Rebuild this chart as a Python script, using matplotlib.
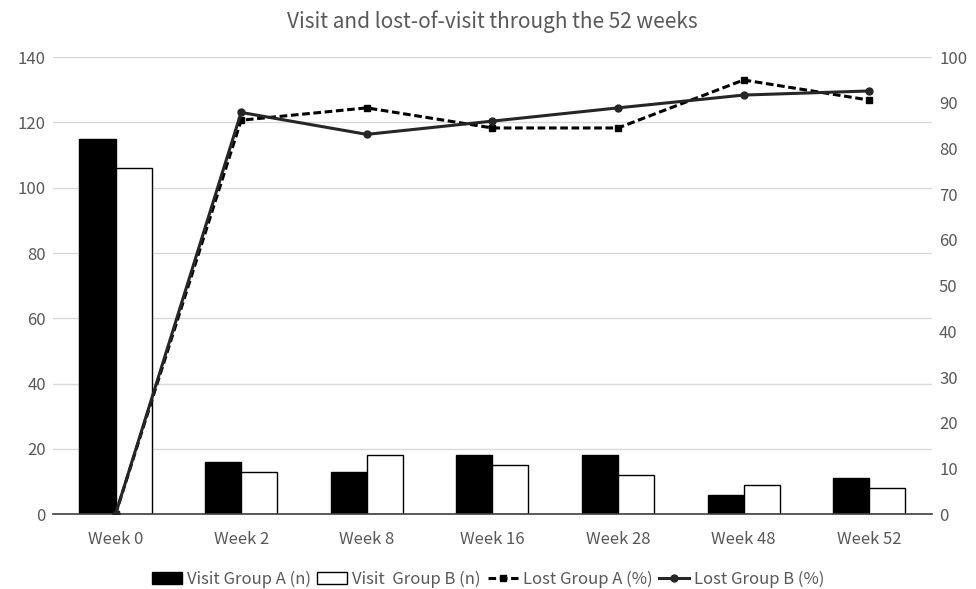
import numpy as np
import matplotlib.pyplot as plt

# data
weeks = ["Week 0", "Week 2", "Week 8", "Week 16", "Week 28", "Week 48", "Week 52"]
visit_a = [115, 16, 13, 18, 18, 6, 11]
visit_b = [106, 13, 18, 15, 12, 9, 8]
lost_a = [0, 86.2, 88.9, 84.5, 84.5, 95.0, 90.6]
lost_b = [0, 87.9, 83.1, 86.0, 88.9, 91.7, 92.6]

plt.rcParams['font.family'] = ['Noto Sans CJK SC', 'DejaVu Sans']
txt = '#595959'

fig = plt.figure(figsize=(9.76, 5.89), dpi=100)
ax = fig.add_axes([0.054, 0.127, 0.901, 0.776])
ax2 = ax.twinx()

x = np.arange(len(weeks))
w = 0.287
ax.bar(x - w / 2, visit_a, w, color='black', edgecolor='black', linewidth=1,
       label='Visit Group A (n)', zorder=2)
ax.bar(x + w / 2, visit_b, w, color='white', edgecolor='black', linewidth=1,
       label='Visit  Group B (n)', zorder=2)

ax2.plot(x, lost_a, color='black', linestyle=(0, (2.5, 1.2)), linewidth=2.2,
         marker='s', markersize=5, label='Lost Group A (%)')
ax2.plot(x, lost_b, color='#262626', linewidth=2.2,
         marker='o', markersize=5, label='Lost Group B (%)')

ax.set_xlim(-0.5, len(weeks) - 0.5)
ax.set_ylim(0, 140)
ax.set_yticks(range(0, 141, 20))
ax2.set_ylim(0, 100)
ax2.set_yticks(range(0, 101, 10))
ax.set_xticks(x)
ax.set_xticklabels(weeks)

ax.yaxis.grid(True, color='#d9d9d9', linewidth=1, zorder=0)
ax.set_axisbelow(True)
for a in (ax, ax2):
    for s in ('top', 'left', 'right', 'bottom'):
        a.spines[s].set_visible(False)
    a.tick_params(length=0, labelsize=12, colors=txt, pad=5)
ax.spines['bottom'].set_visible(True)
ax.spines['bottom'].set_color('#404040')
ax.spines['bottom'].set_linewidth(1.2)
ax.tick_params(axis='x', pad=12)

ax.set_title('Visit and lost-of-visit through the 52 weeks', fontsize=15,
             color=txt, pad=21)

h1, l1 = ax.get_legend_handles_labels()
h2, l2 = ax2.get_legend_handles_labels()
fig.legend(h1 + h2, l1 + l2, loc='lower center', ncol=4, frameon=False,
           fontsize=12, labelcolor=txt, bbox_to_anchor=(0.5, -0.024),
           handlelength=1.8, handletextpad=0.3, columnspacing=0.4)

fig.savefig('out.png', dpi=100)
